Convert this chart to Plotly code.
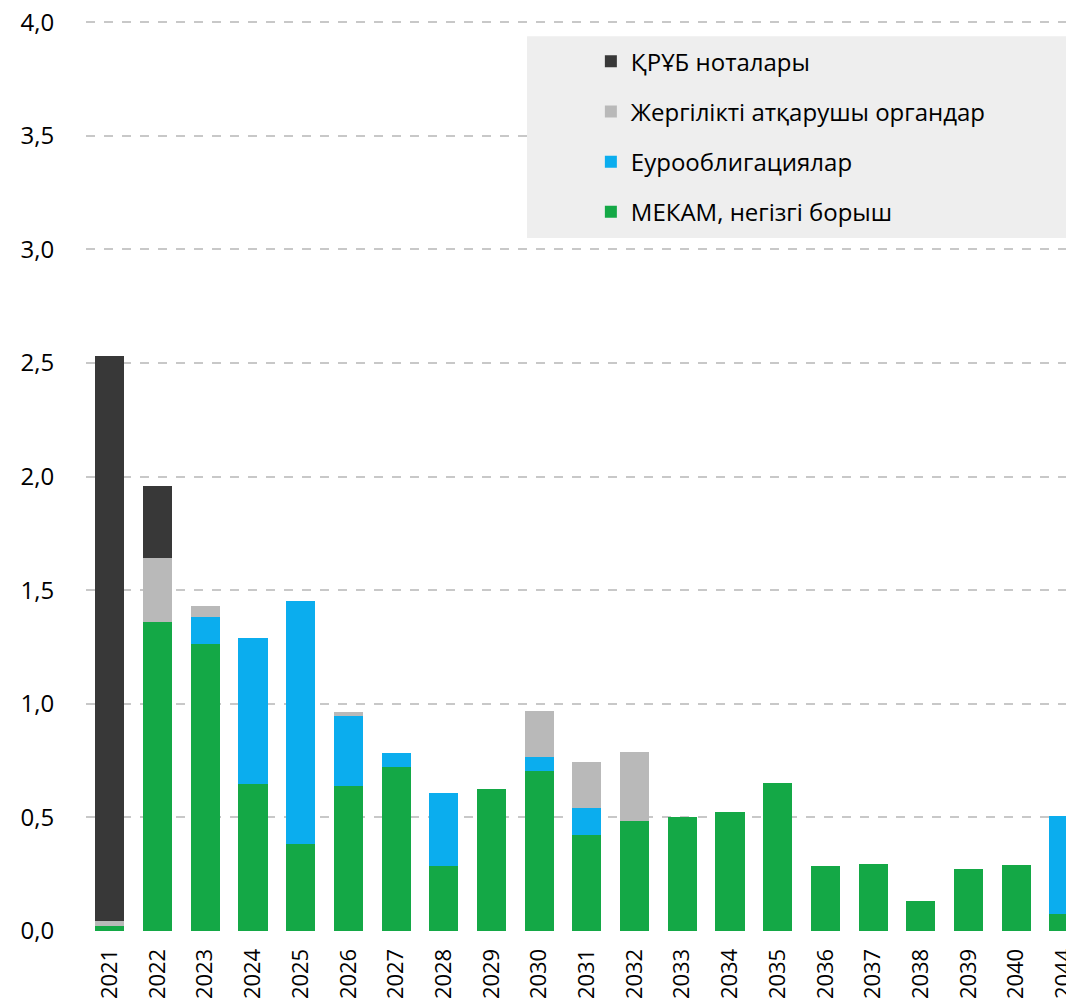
import plotly.graph_objects as go

years = ["2021", "2022", "2023", "2024", "2025", "2026", "2027", "2028", "2029", "2030",
         "2031", "2032", "2033", "2034", "2035", "2036", "2037", "2038", "2039", "2040", "2044"]
mekam = [0.020, 1.361, 1.264, 0.649, 0.385, 0.640, 0.722, 0.285, 0.627, 0.706,
         0.424, 0.486, 0.503, 0.525, 0.653, 0.284, 0.297, 0.134, 0.275, 0.292, 0.077]
euro = [0.000, 0.000, 0.119, 0.641, 1.068, 0.308, 0.063, 0.324, 0.000, 0.061,
        0.119, 0.000, 0.000, 0.000, 0.000, 0.000, 0.000, 0.000, 0.000, 0.000, 0.431]
local = [0.025, 0.281, 0.048, 0.000, 0.000, 0.017, 0.000, 0.000, 0.000, 0.203,
         0.202, 0.303, 0.000, 0.000, 0.000, 0.000, 0.000, 0.000, 0.000, 0.000, 0.000]
notes = [2.486, 0.317, 0.000, 0.000, 0.000, 0.000, 0.000, 0.000, 0.000, 0.000,
         0.000, 0.000, 0.000, 0.000, 0.000, 0.000, 0.000, 0.000, 0.000, 0.000, 0.000]
y_ticks = [0, 0.5, 1.0, 1.5, 2.0, 2.5, 3.0, 3.5, 4.0]
y_tick_text = ["0,0", "0,5", "1,0", "1,5", "2,0", "2,5", "3,0", "3,5", "4,0"]

series = [
    ("МЕКАМ, негізгі борыш", mekam, "#14a846"),
    ("Еурооблигациялар", euro, "#0badee"),
    ("Жергілікті атқарушы органдар", local, "#b9b9b9"),
    ("ҚРҰБ ноталары", notes, "#383838"),
]

FONT = "Open Sans"
fig = go.Figure()
for i, (name, vals, col) in enumerate(series):
    fig.add_trace(go.Bar(
        x=list(range(len(years))), y=vals, name=name,
        marker=dict(color=col, line=dict(width=0)),
        legendgroup=f"g{i}", legendrank=10 - i,
    ))

# the page body has an 8px margin, so the figure is sized to fit the window
fig.update_layout(
    width=1066, height=993,
    barmode="stack", bargap=0.39,
    plot_bgcolor="white", paper_bgcolor="white",
    margin=dict(l=78, r=0, t=11.7, b=69.5, autoexpand=False),
    font=dict(family=FONT, size=24, color="#000000"),
    showlegend=True,
    legend=dict(
        x=0.511, y=0.979, xanchor="left", yanchor="top",
        bgcolor="rgba(0,0,0,0)", traceorder="grouped",
        tracegroupgap=16, font=dict(family=FONT, size=24, color="#000000"),
    ),
    shapes=[dict(type="rect", xref="paper", yref="y",
                 x0=0.4464, x1=1.0, y0=3.050, y1=3.938,
                 fillcolor="#eeeeee", line=dict(width=0), layer="above")],
)
fig.update_xaxes(
    range=[-0.5, 20.21], tickmode="array",
    tickvals=list(range(len(years))), ticktext=years,
    tickangle=-90, showgrid=False, zeroline=False, showline=False,
    ticks="outside", ticklen=8, tickcolor="rgba(0,0,0,0)",
    tickfont=dict(family=FONT, size=22), automargin=False,
    ticklabeloverflow="allow",
)
fig.update_yaxes(
    range=[0, 4.01], tickmode="array", tickvals=y_ticks, ticktext=y_tick_text,
    showgrid=True, gridcolor="#c8c8c8", gridwidth=1.5, griddash="dash",
    zeroline=False, showline=False,
    ticks="outside", ticklen=26, tickcolor="rgba(0,0,0,0)",
    tickfont=dict(family=FONT, size=24), automargin=False,
    ticklabeloverflow="allow",
)
fig.write_html("out.html")
